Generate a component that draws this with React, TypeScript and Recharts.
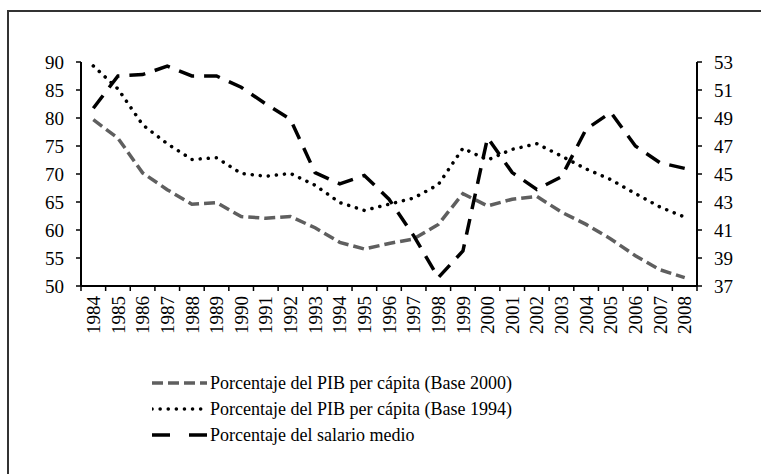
import { ComposedChart, Line, XAxis, YAxis, Legend } from 'recharts';

const years = [
  1984, 1985, 1986, 1987, 1988, 1989, 1990, 1991, 1992, 1993, 1994, 1995, 1996,
  1997, 1998, 1999, 2000, 2001, 2002, 2003, 2004, 2005, 2006, 2007, 2008,
];

// porcentaje del PIB per cápita, base 2000 (eje izquierdo)
const base2000 = [
  79.7, 76.4, 70.2, 67.2, 64.6, 64.9, 62.4, 62.1, 62.4, 60.4, 57.8, 56.6, 57.6,
  58.4, 61.0, 66.5, 64.3, 65.5, 66.0, 63.2, 61.0, 58.4, 55.4, 52.9, 51.5,
];

// porcentaje del PIB per cápita, base 1994 (eje izquierdo)
const base1994 = [
  89.3, 85.2, 78.8, 75.4, 72.6, 72.9, 70.1, 69.6, 70.1, 68.0, 64.9, 63.5, 64.6,
  65.7, 68.1, 74.6, 72.5, 74.4, 75.4, 73.2, 70.9, 69.0, 66.5, 64.1, 62.3,
];

// porcentaje del salario medio (eje derecho)
const salario = [
  49.7, 52.0, 52.1, 52.7, 52.0, 52.0, 51.2, 50.0, 48.9, 45.1, 44.3, 44.9, 43.2,
  40.6, 37.6, 39.5, 47.6, 45.1, 43.9, 44.8, 48.2, 49.4, 47.0, 45.8, 45.4,
];

const leftTicks = [50, 55, 60, 65, 70, 75, 80, 85, 90];
const rightTicks = [37, 39, 41, 43, 45, 47, 49, 51, 53];

const FONT = "'Times New Roman', 'Liberation Serif', 'DejaVu Serif', serif";

const series = [
  {
    key: 'b2000',
    name: 'Porcentaje del PIB per cápita (Base 2000)',
    axis: 'left',
    stroke: '#5f5f5f',
    dash: '11 5',
    legendDash: '11 5',
    cap: 'butt' as const,
  },
  {
    key: 'b1994',
    name: 'Porcentaje del PIB per cápita (Base 1994)',
    axis: 'left',
    stroke: '#000',
    dash: '0.1 8',
    legendDash: '0.1 8',
    cap: 'round' as const,
  },
  {
    key: 'sal',
    name: 'Porcentaje del salario medio',
    axis: 'right',
    stroke: '#000',
    dash: '16 10',
    legendDash: '18 19',
    cap: 'butt' as const,
  },
];

const data = years.map((y, i) => ({
  idx: i,
  year: y,
  b2000: base2000[i],
  b1994: base1994[i],
  sal: salario[i],
}));

// labels at category centres, tick marks on the boundaries between them
const xTicks = [...years.flatMap((_, i) => [i - 0.5, i]), years.length - 0.5];

function YearTick(props: any) {
  const { x, y, payload } = props;
  const v = payload.value;
  if (!Number.isInteger(v)) {
    return <line x1={x} x2={x} y1={y} y2={y + 5} stroke="#000" strokeWidth={1.5} />;
  }
  const ty = y + 10;
  return (
    <text
      x={x}
      y={ty}
      dy="0.35em"
      transform={`rotate(-90 ${x} ${ty})`}
      textAnchor="end"
      fill="#000"
      fontFamily={FONT}
      fontSize={19}
    >
      {years[v]}
    </text>
  );
}

function ChartLegend() {
  return (
    <div style={{ paddingLeft: 152, fontFamily: FONT, fontSize: 18, color: '#000' }}>
      {series.map((s) => (
        <div key={s.key} style={{ height: 26, display: 'flex', alignItems: 'center' }}>
          <svg width={56} height={26} style={{ display: 'block' }}>
            <line
              x1={0}
              x2={55}
              y1={13}
              y2={13}
              stroke={s.stroke}
              strokeWidth={3.5}
              strokeDasharray={s.legendDash}
              strokeLinecap={s.cap}
            />
          </svg>
          <span style={{ marginLeft: 2, whiteSpace: 'nowrap' }}>{s.name}</span>
        </div>
      ))}
    </div>
  );
}

const axisTick = { fill: '#000', fontSize: 19, fontFamily: FONT };

export default function App() {
  return (
    <div
      style={{
        position: 'absolute',
        left: 0,
        top: 0,
        width: 761,
        height: 474,
        overflow: 'hidden',
        background: '#fff',
        fontFamily: FONT,
      }}
    >
      <div
        style={{
          position: 'absolute',
          left: 7,
          top: 10,
          width: 800,
          height: 520,
          border: '2px solid #333',
          boxSizing: 'border-box',
        }}
      />
      <ComposedChart
        width={761}
        height={474}
        data={data}
        margin={{ top: 62, right: 14, left: 21, bottom: 26 }}
        style={{ position: 'absolute', left: 0, top: 0, fontFamily: FONT }}
      >
        <XAxis
          dataKey="idx"
          type="number"
          domain={[-0.5, years.length - 0.5]}
          ticks={xTicks}
          interval={0}
          tickSize={0}
          tickMargin={0}
          tickLine={false}
          axisLine={{ stroke: '#000', strokeWidth: 2 }}
          tick={<YearTick />}
          height={84}
          allowDecimals
        />
        <YAxis
          yAxisId="left"
          domain={[50, 90]}
          ticks={leftTicks}
          interval={0}
          width={60}
          tickSize={5}
          tickMargin={12}
          axisLine={{ stroke: '#000', strokeWidth: 2 }}
          tickLine={{ stroke: '#000', strokeWidth: 1.5 }}
          tick={axisTick}
        />
        <YAxis
          yAxisId="right"
          orientation="right"
          domain={[37, 53]}
          ticks={rightTicks}
          interval={0}
          width={50}
          tickSize={5}
          tickMargin={12}
          axisLine={{ stroke: '#000', strokeWidth: 2 }}
          tickLine={{ stroke: '#000', strokeWidth: 1.5 }}
          tick={axisTick}
        />
        <Legend
          verticalAlign="bottom"
          content={<ChartLegend />}
          wrapperStyle={{ left: 0, width: 761 }}
        />
        {series.map((s) => (
          <Line
            key={s.key}
            yAxisId={s.axis}
            dataKey={s.key}
            name={s.name}
            type="linear"
            stroke={s.stroke}
            strokeWidth={3.5}
            strokeDasharray={s.dash}
            strokeLinecap={s.cap}
            dot={false}
            activeDot={false}
            isAnimationActive={false}
          />
        ))}
      </ComposedChart>
    </div>
  );
}
